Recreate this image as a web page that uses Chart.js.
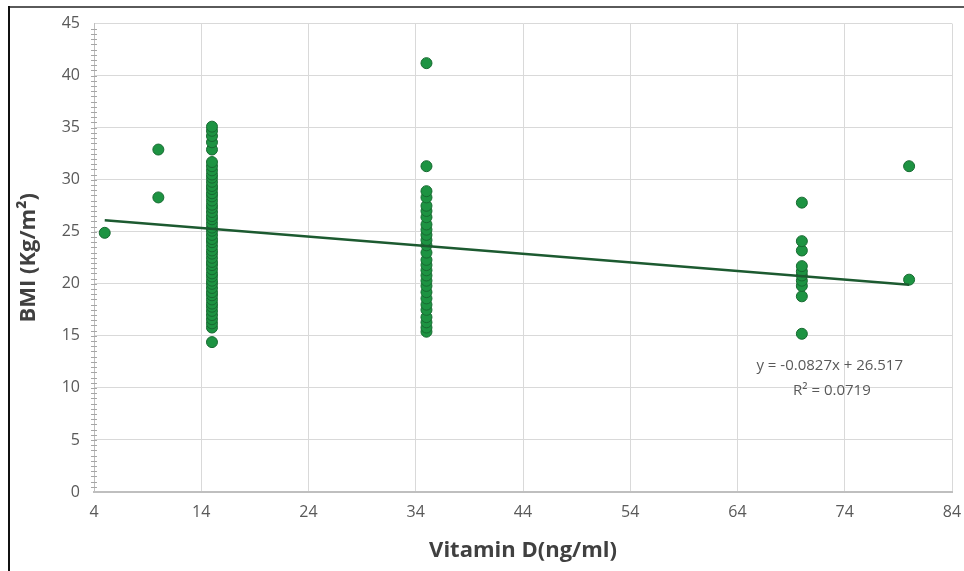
<!DOCTYPE html>
<html>
<head>
<meta charset="utf-8">
<script src="https://cdn.jsdelivr.net/npm/chart.js@4.4.1/dist/chart.umd.min.js"></script>
<style>
  html, body { margin: 0; padding: 0; background: #fff; }
  #wrap { position: relative; width: 964px; height: 571px; overflow: hidden; }
  #frame-top { position: absolute; left: 8px; top: 6px; width: 956px; height: 2px; background: #5a5a5a; }
  #frame-left { position: absolute; left: 8px; top: 6px; width: 2px; height: 565px; background: #111; }
  canvas { position: absolute; left: 0; top: 0; }
</style>
</head>
<body>
<div id="wrap">
  <canvas id="chart-canvas" width="964" height="571"></canvas>
  <div id="frame-top"></div>
  <div id="frame-left"></div>
</div>
<script>
// vitamin D groups (ng/ml) and the BMI values read at each
const bmiAt5 = [24.9];
const bmiAt10 = [28.3, 32.9];
const bmiAt15 = [14.4, 15.8, 16.2, 16.6, 17.0, 17.4, 17.8, 18.1, 18.5, 18.9, 19.2, 19.6,
  20.0, 20.3, 20.7, 21.0, 21.4, 21.8, 22.1, 22.5, 22.9, 23.2, 23.6, 24.0, 24.3, 24.7,
  25.1, 25.4, 25.8, 26.2, 26.5, 26.9, 27.3, 27.6, 28.0, 28.4, 28.7, 29.1, 29.4, 29.8,
  30.2, 30.5, 30.9, 31.3, 31.7, 32.9, 33.6, 34.2, 34.7, 35.1];
const bmiAt35 = [15.4, 15.8, 16.3, 16.8, 17.5, 18.0, 18.6, 19.2, 19.8, 20.3, 20.8, 21.3,
  21.8, 22.3, 23.0, 23.7, 24.2, 24.7, 25.2, 25.7, 26.4, 27.0, 27.5, 28.3, 28.9, 31.3, 41.2];
const bmiAt70 = [15.2, 18.8, 19.8, 20.3, 20.8, 21.2, 21.7, 23.2, 24.1, 27.8];
const bmiAt80 = [20.4, 31.3];

const vitaminGroups = [5, 10, 15, 35, 70, 80];
const bmiGroups = [bmiAt5, bmiAt10, bmiAt15, bmiAt35, bmiAt70, bmiAt80];

const xTicks = [4, 14, 24, 34, 44, 54, 64, 74, 84];
const yTicks = [0, 5, 10, 15, 20, 25, 30, 35, 40, 45];

// linear trend from the reference
const slope = -0.0827;
const intercept = 26.517;
const trendX = [5, 80];
const equationText = ["y = -0.0827x + 26.517", "R\u00B2 = 0.0719"];

const points = [];
vitaminGroups.forEach((vd, i) => {
  bmiGroups[i].forEach((bmi) => points.push({ x: vd, y: bmi }));
});
const trendPoints = trendX.map((x) => ({ x: x, y: slope * x + intercept }));

const tickFont = { family: "'Open Sans', sans-serif", size: 16 };

// small minor ticks along the value axis, plus the equation label
const extras = {
  id: "extras",
  afterDraw(chart) {
    const ctx = chart.ctx;
    const xs = chart.scales.x;
    const ys = chart.scales.y;
    const x0 = xs.getPixelForValue(4);
    ctx.save();
    ctx.strokeStyle = "#a6a6a6";
    ctx.lineWidth = 1;
    for (let v = 0.5; v < 45; v += 0.5) {
      const py = Math.round(ys.getPixelForValue(v)) + 0.5;
      ctx.beginPath();
      ctx.moveTo(x0 - 3, py);
      ctx.lineTo(x0 + 3, py);
      ctx.stroke();
    }
    ctx.fillStyle = "#595959";
    ctx.font = "15px 'Open Sans', sans-serif";
    ctx.textAlign = "center";
    ctx.textBaseline = "middle";
    ctx.fillText(equationText[0], xs.getPixelForValue(72.6), ys.getPixelForValue(12.1));
    ctx.fillText(equationText[1], xs.getPixelForValue(72.8), ys.getPixelForValue(9.7));
    ctx.restore();
  }
};

new Chart(document.getElementById("chart-canvas"), {
  type: "scatter",
  data: {
    datasets: [
      {
        label: "Trend",
        type: "line",
        data: trendPoints,
        borderColor: "#1c5a30",
        borderWidth: 2.5,
        pointRadius: 0,
        fill: false,
        order: 0
      },
      {
        label: "BMI",
        data: points,
        backgroundColor: "#1d9342",
        borderColor: "#176a31",
        borderWidth: 1,
        pointRadius: 5.5,
        order: 1
      }
    ]
  },
  options: {
    responsive: false,
    animation: false,
    devicePixelRatio: 1,
    layout: { padding: { left: 10, right: 12, top: 22, bottom: 0 } },
    plugins: { legend: { display: false }, tooltip: { enabled: false } },
    scales: {
      x: {
        type: "linear",
        min: 4,
        max: 84,
        afterBuildTicks: (scale) => { scale.ticks = xTicks.map((v) => ({ value: v })); },
        afterFit: (scale) => {
          scale.height = 79;
          scale.paddingRight = 0;
          scale.paddingLeft = 0;
        },
        grid: { color: "#d9d9d9", drawTicks: false },
        border: { color: "#bfbfbf", width: 2 },
        ticks: { color: "#595959", font: tickFont, padding: 11 },
        title: {
          display: true,
          text: "Vitamin D(ng/ml)",
          color: "#404040",
          font: { family: "'Open Sans', sans-serif", size: 22, weight: "bold" },
          padding: { top: 0, bottom: 7 }
        }
      },
      y: {
        min: 0,
        max: 45,
        afterBuildTicks: (scale) => { scale.ticks = yTicks.map((v) => ({ value: v })); },
        afterFit: (scale) => { scale.width = 84; },
        grid: { color: "#d9d9d9", drawTicks: false },
        border: { color: "#bfbfbf", width: 1 },
        ticks: { color: "#595959", font: tickFont, padding: 14 },
        title: {
          display: true,
          text: "BMI (Kg/m\u00B2)",
          color: "#404040",
          font: { family: "'Open Sans', sans-serif", size: 22, weight: "bold" },
          padding: { top: 6, bottom: 0 }
        }
      }
    }
  },
  plugins: [extras]
});
</script>
</body>
</html>
